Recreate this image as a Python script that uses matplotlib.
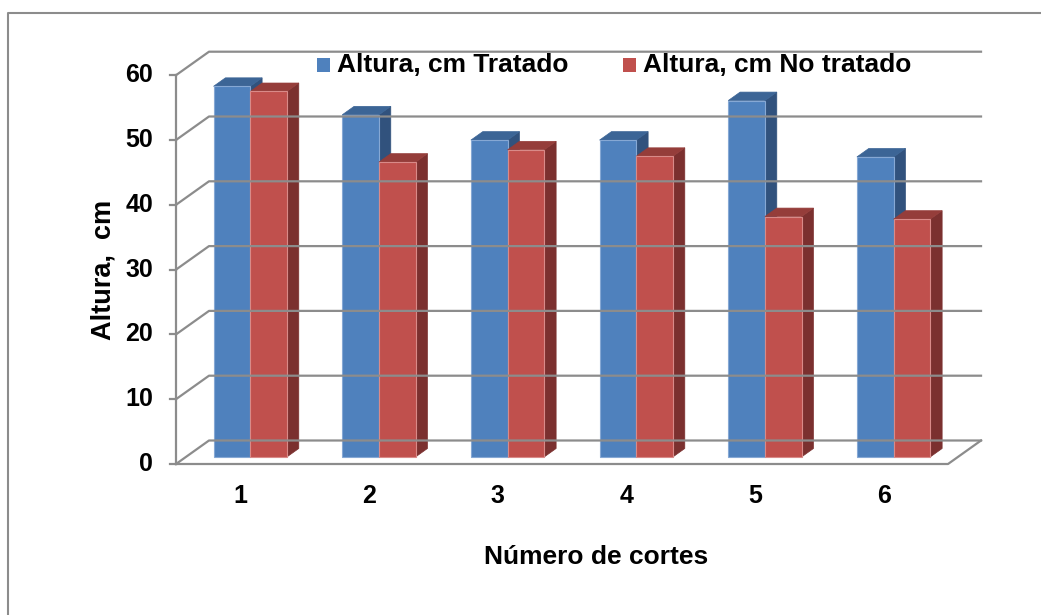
import matplotlib.pyplot as plt
from matplotlib.patches import Polygon, Rectangle
from matplotlib.lines import Line2D

plt.rcParams['font.family'] = ['Liberation Sans', 'DejaVu Sans']
plt.rcParams['font.weight'] = 'bold'

# datos: altura (cm) por número de cortes
cortes = ['1', '2', '3', '4', '5', '6']
tratado = [57.2, 52.8, 48.9, 48.9, 55.0, 46.3]
no_tratado = [56.4, 45.5, 47.4, 46.4, 37.1, 36.7]
series = ['Altura, cm Tratado', 'Altura, cm No tratado']
yticks = [0, 10, 20, 30, 40, 50, 60]

W, H = 1041, 615
fig = plt.figure(figsize=(W / 100, H / 100), dpi=100)
ax = fig.add_axes([0, 0, 1, 1])

# plano frontal: categorias 0..6 entre x=176..948 px, valor 0 en y=464 px
x0_px, cat_px = 176, 128.67
y0_px, val_px = 464, 6.48
ax.set_xlim(-x0_px / cat_px, (W - x0_px) / cat_px)
ax.set_ylim(-(H - y0_px) / val_px, y0_px / val_px)
ax.axis('off')

# desplazamiento de profundidad (pared del fondo)
DX, DY = 33 / cat_px, 23.5 / val_px
ncat = len(cortes)
grid_c = '#8c8c8c'
lw = 1.6

for v in yticks:
    # pared izquierda + pared del fondo
    ax.plot([0, DX, ncat + DX], [v, v + DY, v + DY], color=grid_c, lw=lw)
    ax.plot([-0.047, 0], [v, v], color=grid_c, lw=lw)
    ax.text(-0.179, v, str(v), ha='right', va='center', fontsize=18)
ax.plot([0, 0], [0, yticks[-1]], color=grid_c, lw=lw)
# borde del suelo
ax.plot([0, ncat, ncat + DX], [0, 0, DY], color=grid_c, lw=lw)

colors = [('#4f81bd', '#3c6596', '#31527d', '#86a8d4'),
          ('#c0504d', '#953d3a', '#7b302f', '#d98a88')]
bw = 0.285
d0, d1 = 0.3, 0.66


def bar3d(xl, h, front, top, side, edge):
    xs, ys = xl + d0 * DX, d0 * DY
    ddx, ddy = (d1 - d0) * DX, (d1 - d0) * DY
    ax.add_patch(Polygon([(xs + bw, ys), (xs + bw + ddx, ys + ddy),
                          (xs + bw + ddx, ys + h + ddy), (xs + bw, ys + h)],
                         closed=True, facecolor=side, edgecolor=side, lw=0.5))
    ax.add_patch(Polygon([(xs, ys + h), (xs + bw, ys + h),
                          (xs + bw + ddx, ys + h + ddy), (xs + ddx, ys + h + ddy)],
                         closed=True, facecolor=top, edgecolor=top, lw=0.5))
    ax.add_patch(Rectangle((xs, ys), bw, h, facecolor=front, edgecolor=edge, lw=0.8))


for k in range(ncat):
    for s, vals in enumerate([tratado, no_tratado]):
        xl = k + 0.5 - bw + s * bw
        bar3d(xl, vals[k], *colors[s])
    ax.text(k + 0.5, -(496 - y0_px) / val_px, cortes[k], ha='center', va='center', fontsize=18)

ax.text((596 - x0_px) / cat_px, -(557 - y0_px) / val_px, 'Número de cortes',
        ha='center', va='center', fontsize=19)
ax.text((103 - x0_px) / cat_px, (y0_px - 270) / val_px, 'Altura,  cm',
        ha='center', va='center', rotation=90, fontsize=19.5)

# leyenda
for (sx, tx), name, c in zip([(317, 337), (623, 643)], series, colors):
    fig.patches.append(Rectangle((sx / W, 1 - 72 / H), 13 / W, 14 / H,
                                 transform=fig.transFigure, facecolor=c[0], edgecolor='none'))
    fig.text(tx / W, 1 - 65 / H, name, ha='left', va='center', fontsize=19)

# marco del gráfico
fig.lines.append(Line2D([8 / W, 8 / W, 1], [0, 1 - 13 / H, 1 - 13 / H],
                        transform=fig.transFigure, color=grid_c, lw=1.5))

fig.savefig('out.png', dpi=100)
